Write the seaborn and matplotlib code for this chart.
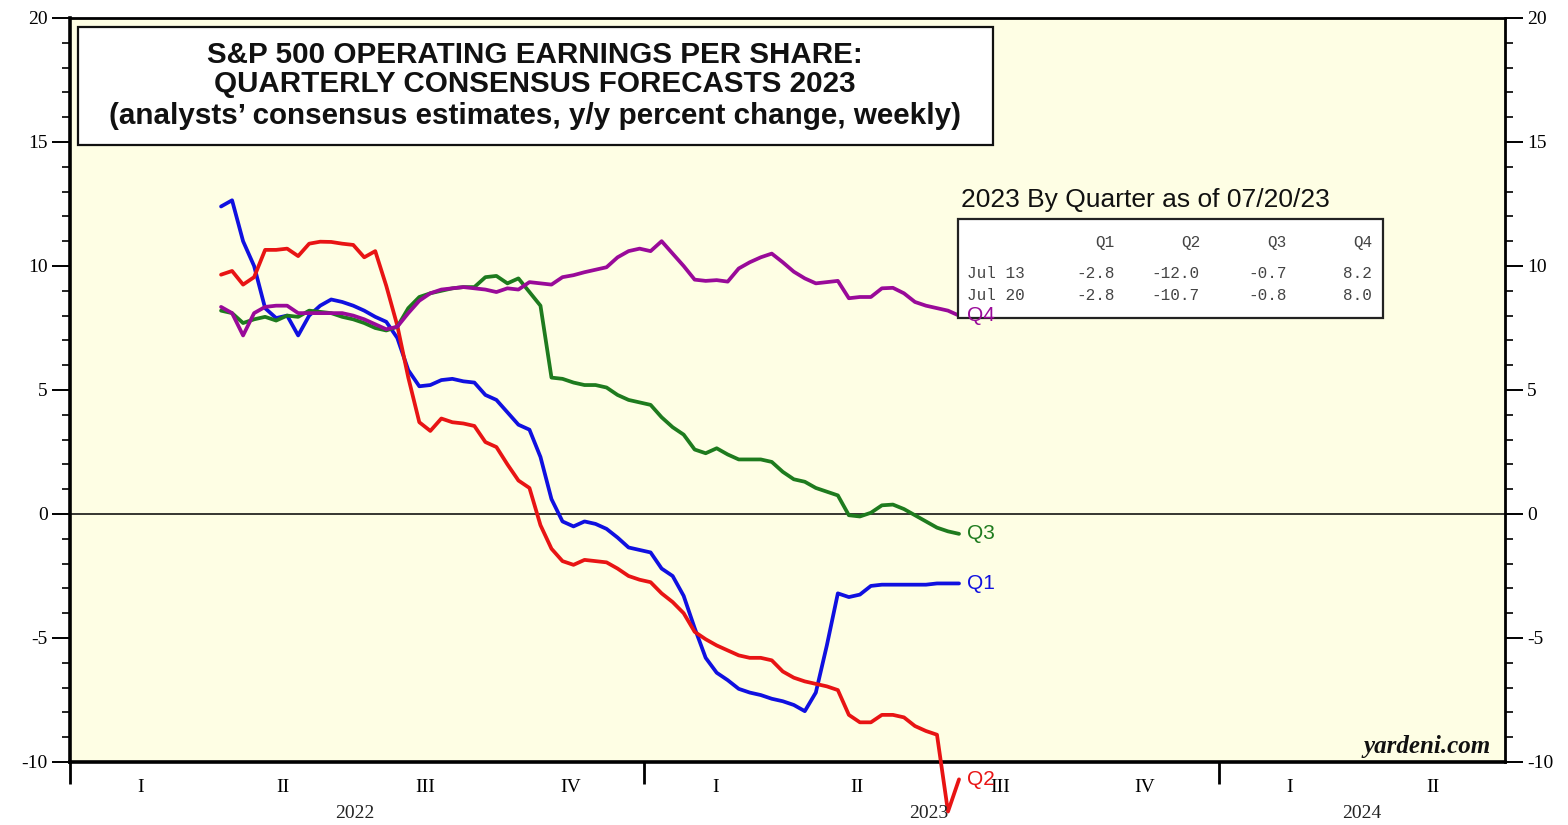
import numpy as np
import pandas as pd
import matplotlib
matplotlib.use('Agg')
import matplotlib.pyplot as plt
import matplotlib.dates as mdates
from matplotlib.ticker import MultipleLocator, FixedLocator, FixedFormatter, NullFormatter
from matplotlib.patches import Rectangle
import seaborn as sns

# ---------------- data ----------------
weeks = pd.date_range('2022-04-07', periods=68, freq='7D')

q1 = [12.4, 12.65, 11.0, 10.0, 8.3, 7.9, 8.0, 7.2, 8.0, 8.4,
      8.65, 8.55, 8.4, 8.2, 7.95, 7.75, 7.1, 5.8, 5.15, 5.2,
      5.4, 5.45, 5.35, 5.3, 4.8, 4.6, 4.1, 3.6, 3.4, 2.3,
      0.6, -0.3, -0.5, -0.3, -0.4, -0.6, -0.95, -1.35, -1.45, -1.55,
      -2.2, -2.5, -3.3, -4.6, -5.8, -6.4, -6.7, -7.05, -7.2, -7.3,
      -7.45, -7.55, -7.7, -7.95, -7.2, -5.3, -3.2, -3.35, -3.25, -2.9,
      -2.85, -2.85, -2.85, -2.85, -2.85, -2.8, -2.8, -2.8]
q2 = [9.65, 9.8, 9.25, 9.55, 10.65, 10.65, 10.7, 10.4, 10.9, 10.98,
      10.97, 10.9, 10.85, 10.35, 10.6, 9.2, 7.6, 5.5, 3.7, 3.35,
      3.85, 3.7, 3.65, 3.55, 2.9, 2.7, 2.0, 1.35, 1.05, -0.45,
      -1.4, -1.9, -2.05, -1.85, -1.9, -1.95, -2.2, -2.5, -2.65, -2.75,
      -3.2, -3.55, -4.0, -4.75, -5.05, -5.3, -5.5, -5.7, -5.8, -5.8,
      -5.9, -6.35, -6.6, -6.75, -6.85, -6.95, -7.1, -8.1, -8.4, -8.4,
      -8.1, -8.1, -8.2, -8.55, -8.75, -8.9, -12.0, -10.7]
q3 = [8.2, 8.1, 7.7, 7.85, 7.95, 7.8, 8.0, 7.95, 8.2, 8.15,
      8.1, 7.95, 7.85, 7.7, 7.5, 7.4, 7.55, 8.3, 8.75, 8.9,
      9.0, 9.1, 9.15, 9.15, 9.55, 9.6, 9.3, 9.5, 8.95, 8.4,
      5.5, 5.45, 5.3, 5.2, 5.2, 5.1, 4.8, 4.6, 4.5, 4.4,
      3.9, 3.5, 3.2, 2.6, 2.45, 2.65, 2.4, 2.2, 2.2, 2.2,
      2.1, 1.7, 1.4, 1.3, 1.05, 0.9, 0.75, -0.05, -0.1, 0.05,
      0.35, 0.38, 0.2, -0.05, -0.3, -0.55, -0.7, -0.8]
q4 = [8.35, 8.1, 7.2, 8.1, 8.35, 8.4, 8.4, 8.1, 8.1, 8.1,
      8.1, 8.1, 8.0, 7.85, 7.65, 7.45, 7.55, 8.1, 8.6, 8.9,
      9.05, 9.1, 9.15, 9.1, 9.05, 8.95, 9.1, 9.05, 9.35, 9.3,
      9.25, 9.55, 9.63, 9.75, 9.85, 9.95, 10.35, 10.6, 10.7, 10.6,
      11.0, 10.5, 10.0, 9.45, 9.4, 9.43, 9.37, 9.9, 10.15, 10.35,
      10.5, 10.15, 9.77, 9.5, 9.3, 9.35, 9.4, 8.7, 8.75, 8.75,
      9.1, 9.12, 8.9, 8.55, 8.4, 8.3, 8.2, 8.0]

series_names = ['Q1', 'Q2', 'Q3', 'Q4']
series_colors = {'Q1': '#1010E0', 'Q2': '#E81414', 'Q3': '#1E7B1E', 'Q4': '#990A99'}

quarter_labels = ['I', 'II', 'III', 'IV', 'I', 'II', 'III', 'IV', 'I', 'II']
year_labels = ['2022', '2023', '2024']

title_lines = ['S&P 500 OPERATING EARNINGS PER SHARE:',
               'QUARTERLY CONSENSUS FORECASTS 2023',
               '(analysts\u2019 consensus estimates, y/y percent change, weekly)']
inset_title = '2023 By Quarter as of 07/20/23'
table_cols = ['Q1', 'Q2', 'Q3', 'Q4']
table_rows = ['Jul 13', 'Jul 20']
table_vals = [[-2.8, -12.0, -0.7, 8.2],
              [-2.8, -10.7, -0.8, 8.0]]

df = pd.DataFrame({
    'date': np.tile(weeks, 4),
    'value': q1 + q2 + q3 + q4,
    'series': np.repeat(series_names, len(weeks)),
})

# ---------------- figure ----------------
sns.set_theme(style='white')
plt.rcParams['font.family'] = ['Liberation Sans', 'DejaVu Sans']
plt.rcParams['axes.unicode_minus'] = False

W, H = 1568, 825
fig = plt.figure(figsize=(W / 100, H / 100), dpi=100)
fig.patch.set_facecolor('white')
ax_l, ax_r, ax_t, ax_b = 70, 1505, 18, 762
ax = fig.add_axes([ax_l / W, (H - ax_b) / H, (ax_r - ax_l) / W, (ax_b - ax_t) / H])
ax.set_facecolor('#FEFEE4')

ax.axhline(0, color='black', lw=1.1, zorder=1)

sns.lineplot(data=df, x='date', y='value', hue='series', hue_order=series_names,
             palette=series_colors, linewidth=2.7, legend=False, ax=ax,
             estimator=None, sort=False, clip_on=False, zorder=3)

ax.set_xlim(pd.Timestamp('2022-01-01'), pd.Timestamp('2024-07-01'))
ax.set_ylim(-10, 20)
ax.set_xlabel('')
ax.set_ylabel('')

# y axis: both sides
ax.yaxis.set_major_locator(MultipleLocator(5))
ax.yaxis.set_minor_locator(MultipleLocator(1))
ax.tick_params(axis='y', which='major', direction='out', length=13, width=1.4,
               left=True, right=True, labelleft=True, labelright=True,
               labelsize=14, pad=3, colors='black', labelfontfamily='Liberation Serif')
ax.tick_params(axis='y', which='minor', direction='out', length=6, width=1.2,
               left=True, right=True, colors='black')

# x axis: year boundaries as ticks, quarter names as labels
year_starts = pd.to_datetime(['2022-01-01', '2023-01-01', '2024-01-01'])
quarter_starts = pd.date_range('2022-01-01', periods=10, freq='QS')
quarter_mids = quarter_starts + pd.Timedelta(days=45)
ax.xaxis.set_major_locator(FixedLocator(mdates.date2num(year_starts)))
ax.xaxis.set_major_formatter(NullFormatter())
ax.xaxis.set_minor_locator(FixedLocator(mdates.date2num(quarter_mids)))
ax.xaxis.set_minor_formatter(FixedFormatter(quarter_labels))
ax.tick_params(axis='x', which='major', direction='out', length=16, width=2.0,
               bottom=True, top=False, colors='black')
ax.tick_params(axis='x', which='minor', length=0, pad=12, labelsize=14,
               colors='black', labelfontfamily='Liberation Serif')

year_pos = pd.to_datetime(['2022-07-01', '2023-07-01', '2024-04-01'])
for xp, lab in zip(year_pos, year_labels):
    ax.text(xp, -52 / (ax_b - ax_t), lab, transform=ax.get_xaxis_transform(),
            ha='center', va='center', fontsize=14, family='Liberation Serif',
            color='#222222')

for side in ['left', 'right', 'top', 'bottom']:
    ax.spines[side].set_visible(True)
    ax.spines[side].set_color('black')
    ax.spines[side].set_linewidth(2.0)
ax.spines['left'].set_linewidth(2.6)
ax.spines['bottom'].set_linewidth(2.6)


def fx(px):
    return px / W


def fy(py):
    return (H - py) / H


# title box
fig.add_artist(Rectangle((fx(78), fy(145)), fx(993) - fx(78), fy(27) - fy(145),
                         transform=fig.transFigure, facecolor='white',
                         edgecolor='#111111', lw=1.6, zorder=5))
for txt, py in zip(title_lines, [55, 84, 116]):
    fig.text(fx(535), fy(py), txt, ha='center', va='center', fontsize=21.3,
             fontweight='bold', color='#111111', zorder=6)

# inset table (drawn inside the axes so the series labels can sit on top)
ax.text(fx(961), fy(200), inset_title, transform=fig.transFigure, ha='left',
        va='center', fontsize=19, color='#111111', zorder=6)
ax.add_patch(Rectangle((fx(958), fy(318)), fx(1383) - fx(958), fy(219) - fy(318),
                       transform=fig.transFigure, facecolor='white',
                       edgecolor='#222222', lw=1.6, zorder=5))
col_right = [1115, 1200, 1287, 1372]
for c, xr in zip(table_cols, col_right):
    ax.text(fx(xr), fy(243), c, transform=fig.transFigure, ha='right', va='center',
            fontsize=11.5, family='Liberation Mono', color='#444444', zorder=6)
for r, rowvals, py in zip(table_rows, table_vals, [274, 296]):
    ax.text(fx(967), fy(py), r, transform=fig.transFigure, ha='left', va='center',
            fontsize=11.5, family='Liberation Mono', color='#444444', zorder=6)
    for v, xr in zip(rowvals, col_right):
        ax.text(fx(xr), fy(py), f'{v:.1f}', transform=fig.transFigure, ha='right',
                va='center', fontsize=11.5, family='Liberation Mono',
                color='#444444', zorder=6)

# end labels
for name, vals in zip(series_names, [q1, q2, q3, q4]):
    ax.annotate(name, xy=(weeks[-1], vals[-1]), xytext=(6, 0),
                textcoords='offset points', ha='left', va='center',
                fontsize=15, color=series_colors[name], annotation_clip=False,
                zorder=8)

# source
ax.text(fx(1491), fy(747), 'yardeni.com', transform=fig.transFigure, ha='right',
        va='center', fontsize=18, family='Liberation Serif', fontweight='bold',
        fontstyle='italic', color='#111111', zorder=6)

fig.savefig('out.png', dpi=100, facecolor='white')
